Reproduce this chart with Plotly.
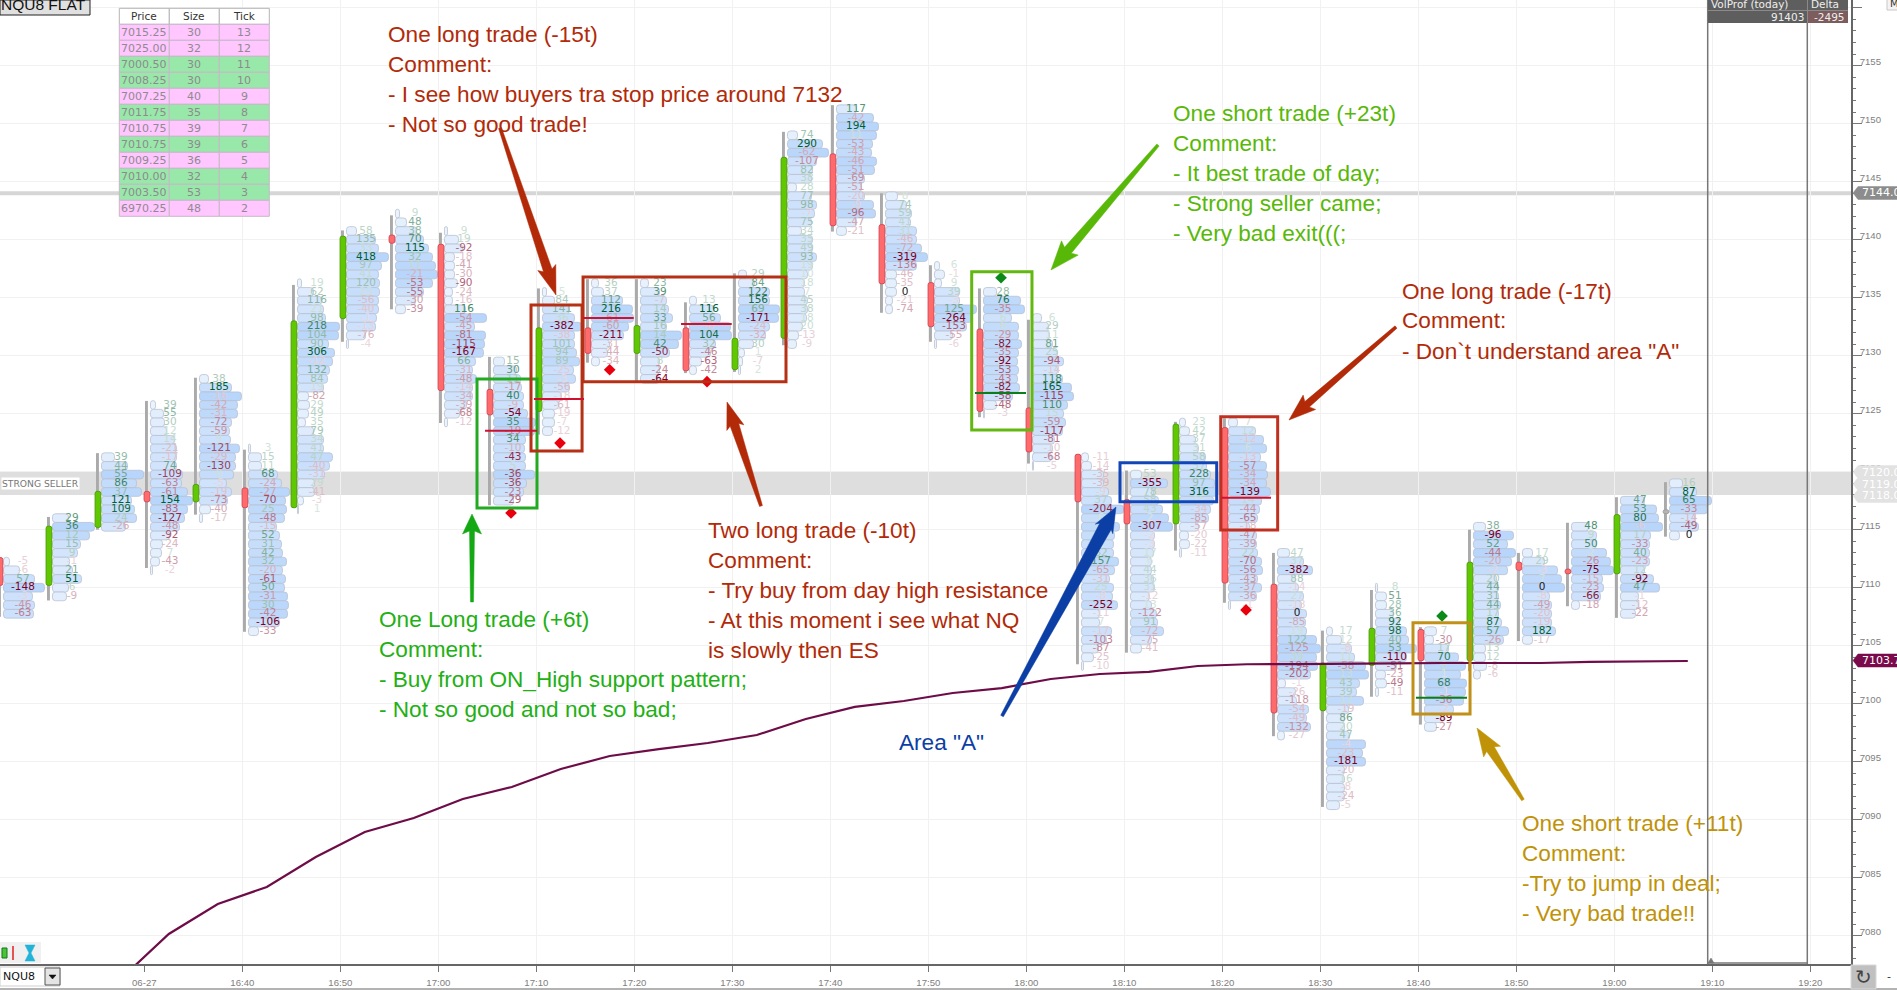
import plotly.graph_objects as go

# footprint bars, time in minutes after midnight, 5 min each
bar_times = [975, 980, 985, 990, 995, 1000, 1005, 1010, 1015, 1020, 1025, 1030, 1035, 1040, 1045, 1050, 1055, 1060,
             1065, 1070, 1075, 1080, 1085, 1090, 1095, 1100, 1105, 1110, 1115, 1120, 1125, 1130, 1135, 1140, 1145]
bar_tops = [7112.25, 7116, 7121.25, 7125.75, 7128, 7122, 7136.25, 7140.75, 7142.25, 7140.75, 7129.5, 7135.5,
            7136.25, 7136.25, 7134.75, 7137, 7149, 7151.25, 7143.75, 7137.75, 7135.5, 7133.25, 7121.25, 7119.75,
            7124.25, 7124.25, 7113, 7106.25, 7110, 7106.25, 7115.25, 7113, 7115.25, 7117.5, 7119]
bar_open = [7112.6, 7110.2, 7115.2, 7118.3, 7117.4, 7118.6, 7116.9, 7133.2, 7140.4, 7139.6, 7127.1, 7125.2,
            7132.4, 7130.2, 7132.4, 7128.8, 7131.5, 7147.4, 7141.3, 7136.3, 7132.3, 7125.5, 7121.5, 7117.6,
            7115.5, 7123.8, 7110.3, 7099.4, 7103.3, 7106.4, 7103.7, 7112.2, 7111.6, 7111.2, 7116.55]
bar_close = [7110.2, 7115.3, 7118.3, 7117.4, 7118.9, 7116.9, 7133, 7140.3, 7139.7, 7127, 7124.9, 7132.4,
             7130.2, 7132.6, 7128.7, 7131.5, 7147.1, 7141.2, 7136.2, 7132.5, 7125.2, 7121.7, 7117.4, 7115.5,
             7124.1, 7110.4, 7099.2, 7103.5, 7106.5, 7103.7, 7112.2, 7111.5, 7111.2, 7116.3, 7116.55]
bar_high = [7112.6, 7116.1, 7121.6, 7126.1, 7128.1, 7121.9, 7136.1, 7140.8, 7142.1, 7140.6, 7129.9, 7135.8,
            7136.6, 7136.6, 7134.6, 7137.1, 7149.3, 7151.6, 7144, 7137.8, 7135.8, 7133.1, 7121.5, 7120.1,
            7124.3, 7124.6, 7113, 7106.3, 7109.8, 7106.6, 7115, 7113, 7115.6, 7117.8, 7119.1]
bar_low = [7107.5, 7108.9, 7115, 7111.7, 7116.3, 7106.2, 7116.9, 7131.2, 7134, 7124.2, 7117.1, 7123.2,
           7129.4, 7127.8, 7128.5, 7128.6, 7130.9, 7140.7, 7133.7, 7131.2, 7124.7, 7120.7, 7103.4, 7104.4,
           7113.2, 7108.7, 7097.2, 7091.1, 7100.6, 7098.2, 7102.8, 7105.4, 7108.4, 7107.4, 7114.4]

# delta printed in each row of each bar, top row first
bar_deltas = [
    [-5, -6, 57, -148, -3, -46, -63],
    [29, 36, 12, 15, 9, -1, 21, 51, 6, -9],
    [39, 44, 55, 86, 37, 121, 109, 24, -26],
    [39, 55, 30, 12, 14, -21, -17, 74, -109, -63, -61, 154, -83, -127, -48, -92, -24, 7, -43, -2],
    [38, 185, -16, -42, -31, -72, -59, 9, -121, -29, -130, 9, -5, -19, -73, -40, -17],
    [3, 15, 11, 68, -24, -27, -70, 25, -48, -15, 52, 31, 42, 32, -20, -61, 50, -31, 30, -42, -106, -33],
    [19, 62, 116, 21, 98, 218, 104, 90, 306, -12, 132, 84, 19, -82, 29, 49, 35, 79, 34, 41, 47, -40, -31, 29, -41, -3, 1],
    [58, 135, 33, 418, 97, 41, 120, 25, -56, -40, -1, -13, -76, -4],
    [9, 48, 38, 70, 115, 32, 11, -21, -53, -55, -30, -39],
    [9, 19, -92, -18, -41, -30, -90, -24, -16, 116, -54, -45, -81, -115, -167, 66, -31, -48, -14, -34, -39, -68, -12],
    [15, 30, 11, -17, 40, -9, -54, 35, -19, 34, -10, -43, 5, -36, -36, -23, -29],
    [5, 84, 141, 36, -382, -38, 101, 94, 89, -25, -3, -56, -18, -61, -19, -7, -12],
    [36, 37, 112, 216, -61, -60, -211, -31, -44, -34],
    [23, 39, -7, 14, 33, 16, 14, 42, -50, 8, -24, -64],
    [13, 116, 56, -8, 104, 32, -46, -63, -42],
    [29, 84, 122, 156, 69, -171, -24, -32, 30, 1, -7, 2],
    [74, 290, -62, -107, 82, 38, 28, 77, 98, -7, 75, 34, 35, 49, 93, 19, 10, 18, 7, 45, 38, 18, 20, -13, -9],
    [117, -42, 194, 11, -53, -43, -46, -51, -69, -51, -20, -9, -96, -47, -21],
    [8, 74, 59, 41, 31, -46, -72, -319, -136, -46, -35, 0, -21, -74],
    [6, -1, 9, 39, -3, 125, -264, -153, -55, -6],
    [28, 76, -35, 6, 6, -29, -82, -35, -92, -53, -43, -82, -58, -48, -3],
    [6, 29, 11, 81, 25, -94, -14, 118, 165, -115, 110, 15, -59, -117, -81, -10, -68, -5],
    [-11, -14, -35, -39, -9, 37, -204, 6, -3, 5, 1, 62, 157, -65, -31, 25, -8, -252, -11, 7, -17, -103, -87, -25, -10],
    [53, -355, 78, 58, 43, 2, -307, -2, -3, 17, 6, 44, 36, 31, -12, 13, -122, 91, -72, -75, -41],
    [23, 42, 37, 31, 58, 37, 228, 97, 316, 15, -34, -85, -57, -20, -22, -11],
    [7, 12, -12, 6, -13, -57, -34, -34, -139, 14, -44, -65, -18, -47, -39, 22, -70, -56, -43, -37, -36, -1],
    [47, 37, -382, 88, -14, 27, -18, 0, -85, 19, 122, -125, 39, -194, -202, -1, -26, -118, -54, -49, -132, -27],
    [17, 12, -8, 11, -58, 13, 43, 39, 12, -19, 86, 20, 47, -4, -23, -181, -20, 16, -8, -24, -5],
    [8, 51, 28, 36, 92, 98, 40, 53, -110, -51, -23, -49, -11],
    [7, -30, 17, 70, 8, 1, 68, -1, -36, -2, -89, -27],
    [38, -96, 52, -44, -20, -2, 20, 44, 31, 44, 17, 87, 57, -26, 13, 12, -8, -6],
    [17, 29, -3, 7, 0, -8, -49, -20, -19, 182, -17],
    [48, 9, 50, 2, -26, -75, -15, -23, -66, -18],
    [47, 53, 80, -6, 17, -33, 40, -23, 12, -92, 47, -1, -12, -22],
    [16, 87, 65, -33, -14, -49, 0],
]
# volume profile of each bar (relative length, 42 = longest row of the bar)
bar_vols = [
    [6, 16, 31, 41, 29, 31, 30],
    [16, 42, 37, 28, 25, 17, 20, 29, 16, 14],
    [13, 26, 42, 35, 40, 30, 33, 35, 24],
    [5, 13, 14, 16, 24, 26, 26, 26, 32, 31, 37, 42, 37, 34, 29, 19, 12, 11, 9, 2],
    [9, 32, 42, 38, 38, 32, 30, 31, 40, 36, 36, 34, 27, 32, 28, 11, 3],
    [2, 13, 13, 29, 33, 41, 37, 38, 36, 28, 31, 33, 34, 38, 34, 37, 36, 39, 40, 39, 31, 10],
    [4, 16, 24, 26, 28, 42, 41, 31, 37, 35, 32, 30, 26, 11, 12, 11, 8, 16, 26, 26, 35, 32, 27, 17, 17, 6, 1],
    [10, 29, 32, 42, 35, 32, 33, 33, 32, 32, 30, 29, 19, 2],
    [4, 11, 21, 28, 33, 37, 40, 42, 37, 28, 20, 10],
    [3, 14, 18, 10, 10, 10, 13, 8, 8, 21, 42, 30, 41, 40, 39, 31, 28, 32, 28, 28, 22, 15, 3],
    [11, 23, 27, 28, 30, 30, 34, 42, 41, 32, 31, 32, 32, 41, 33, 30, 20],
    [4, 12, 27, 32, 39, 32, 32, 34, 37, 31, 33, 27, 19, 16, 12, 12, 10],
    [7, 12, 31, 41, 42, 37, 32, 18, 16, 8],
    [8, 19, 26, 28, 32, 26, 41, 38, 29, 19, 19, 19],
    [7, 24, 31, 41, 42, 26, 21, 12, 7],
    [8, 16, 31, 31, 41, 40, 31, 27, 15, 6, 4, 2],
    [10, 35, 41, 29, 25, 24, 9, 24, 29, 27, 24, 14, 25, 25, 29, 25, 20, 17, 17, 20, 20, 19, 15, 11, 9],
    [20, 37, 42, 40, 36, 35, 40, 38, 28, 25, 28, 37, 39, 20, 10],
    [12, 21, 26, 25, 31, 31, 36, 42, 31, 11, 11, 11, 7, 7],
    [5, 10, 7, 25, 25, 42, 38, 32, 18, 2],
    [13, 37, 41, 28, 35, 35, 38, 35, 34, 35, 34, 36, 29, 13, 1],
    [9, 16, 17, 20, 25, 31, 25, 30, 39, 41, 35, 31, 33, 30, 22, 20, 19, 1],
    [7, 10, 22, 22, 27, 30, 42, 33, 38, 33, 32, 32, 37, 33, 28, 32, 31, 36, 18, 18, 30, 25, 17, 12, 2],
    [11, 37, 23, 28, 32, 38, 42, 24, 24, 23, 21, 21, 23, 24, 19, 21, 26, 27, 33, 21, 11],
    [6, 10, 16, 19, 26, 27, 31, 35, 38, 34, 31, 29, 19, 9, 10, 2],
    [9, 27, 35, 38, 32, 38, 39, 38, 42, 33, 31, 29, 21, 28, 28, 29, 33, 34, 29, 33, 28, 2],
    [12, 26, 35, 18, 21, 26, 24, 29, 28, 29, 39, 43, 39, 40, 33, 8, 18, 19, 31, 29, 33, 7],
    [6, 15, 25, 28, 39, 42, 33, 30, 37, 22, 18, 18, 23, 39, 36, 39, 18, 18, 18, 18, 13],
    [2, 11, 11, 18, 24, 31, 33, 41, 31, 21, 10, 11, 3],
    [12, 9, 24, 34, 41, 36, 42, 41, 39, 29, 19, 12],
    [12, 40, 34, 42, 38, 34, 23, 25, 25, 27, 25, 28, 35, 30, 12, 12, 13, 7],
    [10, 22, 35, 39, 42, 27, 29, 29, 29, 33, 10],
    [17, 25, 25, 35, 39, 42, 31, 32, 29, 8],
    [24, 36, 38, 42, 30, 29, 29, 29, 24, 33, 39, 18, 18, 15],
    [13, 27, 42, 38, 25, 29, 10],
]

vwap_times = [987.5, 992.5, 997.5, 1002.5, 1007.5, 1012.5, 1017.5, 1022.5, 1027.5, 1032.5, 1037.5, 1042.5, 1047.5,
              1052.5, 1057.5, 1062.5, 1067.5, 1072.5, 1077.5, 1082.5, 1087.5, 1092.5, 1097.5, 1102.5, 1107.5,
              1112.5, 1117.5, 1122.5, 1127.5, 1132.5, 1137.5, 1142.5, 1147.5]
vwap_prices = [7076.2, 7080.15, 7082.73, 7084.2, 7086.78, 7088.94, 7090.15, 7091.78, 7092.82, 7094.37, 7095.49,
               7096.09, 7096.61, 7097.3, 7098.68, 7099.72, 7100.23, 7100.92, 7101.35, 7102.13, 7102.56, 7102.74,
               7103.25, 7103.4, 7103.42, 7103.42, 7103.47, 7103.51, 7103.51, 7103.51, 7103.6, 7103.64, 7103.68]

# trade boxes: t0, t1, top price, bottom price, colour
trade_boxes = [
    (1023.95, 1030.07, 7128.0, 7116.87, "#22aa22"),
    (1029.46, 1034.67, 7134.37, 7121.78, "#b53015"),
    (1034.77, 1055.48, 7136.78, 7127.76, "#b53015"),
    (1074.43, 1080.58, 7137.24, 7123.6, "#62b810"),
    (1089.56, 1099.43, 7120.78, 7117.41, "#1046b8"),
    (1099.84, 1105.65, 7124.74, 7114.97, "#c03020"),
    (1119.46, 1125.28, 7106.98, 7099.11, "#c09018"),
]
stop_lines = [
    (1024.77, 1030.07, 7123.53, "#d01030"),
    (1029.76, 1034.87, 7126.27, "#d01030"),
    (1034.77, 1039.94, 7133.25, "#d01030"),
    (1044.77, 1049.94, 7132.73, "#d01030"),
    (1074.76, 1079.97, 7126.78, "#0b7d1a"),
    (1099.94, 1104.97, 7117.76, "#d01030"),
    (1119.76, 1124.97, 7100.52, "#0b7d1a"),
]
fill_times = [1027.42, 1032.42, 1037.49, 1047.42, 1077.42, 1102.42, 1122.42]
fill_prices = [7116.44, 7122.47, 7128.79, 7127.76, 7136.72, 7108.08, 7107.56]
fill_colors = ["#e8000f", "#e8000f", "#e8000f", "#e8000f", "#0b8a1a", "#e8000f", "#0b8a1a"]

table_price = ["7015.25", "7025.00", "7000.50", "7008.25", "7007.25", "7011.75", "7010.75", "7010.75", "7009.25",
               "7010.00", "7003.50", "6970.25"]
table_size = [30, 32, 30, 30, 40, 35, 39, 39, 36, 32, 53, 48]
table_tick = [13, 12, 11, 10, 9, 8, 7, 6, 5, 4, 3, 2]
table_side = ["p", "p", "g", "g", "p", "g", "p", "g", "p", "g", "g", "p"]

x_ticks = [990, 1000, 1010, 1020, 1030, 1040, 1050, 1060, 1070, 1080, 1090, 1100, 1110, 1120, 1130, 1140, 1150, 1160]
x_labels = ["06-27", "16:40", "16:50", "17:00", "17:10", "17:20", "17:30", "17:40", "17:50", "18:00", "18:10",
            "18:20", "18:30", "18:40", "18:50", "19:00", "19:10", "19:20"]

RED = "#b22a08"
LIME = "#58b808"
GREEN = "#22b014"
BLUE = "#0b3fa6"
GOLD = "#bf9208"

comments = [
    (387, 35, RED, ["One long trade (-15t)", "Comment:", "- I see how buyers tra stop price around 7132", "- Not so good trade!"]),
    (1172, 113, LIME, ["One short trade (+23t)", "Comment:", "- It best trade of day;", "- Strong seller came;", "- Very bad exit(((;"]),
    (1401, 291, RED, ["One long trade (-17t)", "Comment:", '- Don`t understand area "A"']),
    (378, 619, GREEN, ["One Long trade (+6t)", "Comment:", "- Buy from ON_High support pattern;", "- Not so good and not so bad;"]),
    (707, 530, RED, ["Two long trade (-10t)", "Comment:", "- Try buy from day high resistance", "- At this moment i see what NQ", "is slowly then ES"]),
    (898, 742, BLUE, ['Area "A"']),
    (1521, 823, GOLD, ["One short trade (+11t)", "Comment:", "-Try to jump in deal;", "- Very bad trade!!"]),
]
# tail x, tail y, tip x, tip y, tail width, neck width, head width, head length, colour
arrows = [
    (500, 128, 556, 295, 3, 9, 19, 26, RED),
    (1158, 145, 1051, 270, 3, 9, 22, 26, LIME),
    (1396, 327, 1289, 420, 3, 7, 19, 24, RED),
    (472, 602, 472, 514, 3, 5, 19, 17, "#14a814"),
    (761, 506, 727, 402, 3, 9, 18, 24, RED),
    (1002, 716, 1116, 507, 3, 13, 20, 22, BLUE),
    (1523, 800, 1477, 728, 3, 9, 20, 25, GOLD),
]
price_tags = [(193, "7144.00", "#8c8c8c", "white"), (472, "7120.00", "#e2e2e2", "white"),
              (484, "7119.00", "#e2e2e2", "white"), (496, "7118.00", "#e2e2e2", "white"),
              (660.5, "7103.75", "#7a0a4a", "white")]

W, H = 1897, 990
PLOT_W, PLOT_H = 1851, 964
PX_PER_MIN, PX_PER_PT = 9.8, 11.6
ROW = 0.75


def px(x):
    return x / PLOT_W


def py(y):
    return 1 - y / PLOT_H


def blend(color, a):
    return "rgb(%d,%d,%d)" % tuple(round(255 + (c - 255) * a) for c in color)


def delta_color(v, top):
    if v == 0:
        return "#222222"
    a = 0.15 + 0.85 * abs(v) / top
    return blend((0, 95, 50) if v > 0 else (125, 0, 35), a)


def vol_color(n):
    r = min(n / 42, 1) ** 1.4
    return "rgb(%d,%d,%d)" % (238 - 54 * r, 245 - 32 * r, 254 - 3 * r)


row_y, row_len, row_base, row_fill = [], [], [], []
text_x, text_y, text_s, text_c = [], [], [], []
for t, top, deltas, vols in zip(bar_times, bar_tops, bar_deltas, bar_vols, strict=True):
    biggest = max(abs(v) for v in deltas)
    for i, (d, v) in enumerate(zip(deltas, vols, strict=True)):
        p = top - i * ROW
        row_y.append(p)
        row_len.append(v / PX_PER_MIN)
        row_base.append(t + 0.27 + 0.36)
        row_fill.append(vol_color(v))
        text_x.append(t + 0.27 + 2.35)
        text_y.append(p)
        text_s.append(str(d))
        text_c.append(delta_color(d, biggest))

body_base, body_len, body_fill, body_edge = [], [], [], []
for o, c in zip(bar_open, bar_close, strict=True):
    body_base.append(min(o, c) if o != c else o - 0.17)
    body_len.append(abs(o - c) if o != c else 0.34)
    body_fill.append("#5fc800" if c > o else "#ff6b6b" if c < o else "#b4b4b4")
    body_edge.append("#4f9f08" if c > o else "#d9485a" if c < o else "#a0a0a0")

fig = go.Figure()
fig.add_trace(go.Bar(
    x=row_len, y=row_y, base=row_base, orientation="h", width=ROW,
    marker=dict(color=row_fill, line=dict(color="#b7c2d2", width=0.8), cornerradius=3),
    hoverinfo="skip",
))
fig.add_trace(go.Bar(
    x=[t + 0.27 for t in bar_times], y=[h - l for h, l in zip(bar_high, bar_low)], base=bar_low, width=0.2,
    marker=dict(color="#aaaaaa", line=dict(width=0)), hoverinfo="skip",
))
fig.add_trace(go.Bar(
    x=[t + 0.27 for t in bar_times], y=body_len, base=body_base, width=0.58,
    marker=dict(color=body_fill, line=dict(color=body_edge, width=1), cornerradius=2), hoverinfo="skip",
))
fig.add_trace(go.Scatter(
    x=text_x, y=text_y, text=text_s, mode="text", hoverinfo="skip",
    textfont=dict(family="DejaVu Sans", size=10.5, color=text_c),
))
fig.add_trace(go.Scatter(
    x=vwap_times, y=vwap_prices, mode="lines", hoverinfo="skip",
    line=dict(color="#6e0c47", width=2.2),
))
fig.add_trace(go.Scatter(
    x=fill_times, y=fill_prices, mode="markers", hoverinfo="skip",
    marker=dict(symbol="diamond", size=9, color=fill_colors),
))

shapes = [
    # strong seller zone and the day high level
    dict(type="rect", xref="paper", yref="y", x0=0, x1=1, y0=7118, y1=7120,
         fillcolor="#dedede", line_width=0, layer="below"),
    dict(type="line", xref="paper", yref="y", x0=0, x1=1, y0=7144, y1=7144,
         line=dict(color="#d6d6d6", width=4), layer="below"),
]
for t0, t1, p0, p1, color in trade_boxes:
    shapes.append(dict(type="rect", x0=t0, x1=t1, y0=p0, y1=p1, line=dict(color=color, width=3)))
for t0, t1, p, color in stop_lines:
    shapes.append(dict(type="line", x0=t0, x1=t1, y0=p, y1=p, line=dict(color=color, width=2)))


def poly(points, fill, line=None):
    path = "M " + " L ".join(f"{px(a):.5f},{py(b):.5f}" for a, b in points) + " Z"
    return dict(type="path", xref="paper", yref="paper", path=path, fillcolor=fill,
                line=dict(color=line or fill, width=0.5))


def box(x0, y0, x1, y1, fill, line="rgba(0,0,0,0)", lw=1):
    return dict(type="rect", xref="paper", yref="paper", x0=px(x0), x1=px(x1), y0=py(y0), y1=py(y1),
                fillcolor=fill, line=dict(color=line, width=lw))


for x0, y0, x1, y1, w0, w1, hw, hl, color in arrows:
    dx, dy = x1 - x0, y1 - y0
    n = (dx * dx + dy * dy) ** 0.5
    ux, uy = dx / n, dy / n
    nx, ny = -uy, ux
    nk = (x1 - ux * hl, y1 - uy * hl)
    shapes.append(poly([
        (x0 + nx * w0 / 2, y0 + ny * w0 / 2), (nk[0] + nx * w1 / 2, nk[1] + ny * w1 / 2),
        (nk[0] + nx * hw / 2 - ux * 3, nk[1] + ny * hw / 2 - uy * 3), (x1, y1),
        (nk[0] - nx * hw / 2 - ux * 3, nk[1] - ny * hw / 2 - uy * 3), (nk[0] - nx * w1 / 2, nk[1] - ny * w1 / 2),
        (x0 - nx * w0 / 2, y0 - ny * w0 / 2),
    ], color))

# price/size/tick table, one row of 16 px per entry
TAB_X = [119.3, 169.3, 219.3, 269.3]
TAB_Y = 8.3
for c in range(3):
    shapes.append(box(TAB_X[c], TAB_Y, TAB_X[c + 1], TAB_Y + 16, "#ffffff", "#b4b4b4", 1))
    for i, side in enumerate(table_side):
        y = TAB_Y + 16 * (i + 1)
        shapes.append(box(TAB_X[c], y, TAB_X[c + 1], y + 16, "#ffc6ff" if side == "p" else "#98e8a9", "#c6b8c6", 1))

# right hand panel, price tags and the window controls
shapes += [
    dict(type="line", xref="paper", yref="paper", x0=px(1707.7), x1=px(1707.7), y0=0, y1=1, line=dict(color="#777777", width=1.5)),
    dict(type="line", xref="paper", yref="paper", x0=px(1807.3), x1=px(1807.3), y0=0, y1=1, line=dict(color="#777777", width=1.5)),
    box(1708, 0, 1848, 23, "#5e5e5e"),
    box(1808, 11, 1848, 23, "#7c5c5c"),
    dict(type="line", xref="paper", yref="paper", x0=px(1708), x1=px(1848), y0=py(10.5), y1=py(10.5), line=dict(color="#8a8a8a", width=1)),
    dict(type="line", xref="paper", yref="paper", x0=px(1807.5), x1=px(1807.5), y0=py(0), y1=py(23), line=dict(color="#8a8a8a", width=1)),
    dict(type="line", xref="paper", yref="paper", x0=px(1708), x1=px(1807), y0=py(963), y1=py(963), line=dict(color="#777777", width=1.5)),
    poly([(1711, 958), (1714, 963), (1708, 963)], "#777777"),
    box(0, 0, 90, 15, "#e0e0e0", "#222222", 1),
    box(0, 942, 41, 963, "#f0f0f0"),
    box(0, 967, 60, 986, "#ffffff", "#cfcfcf", 1),
    box(45, 968, 60, 985, "#e4e4e4", "#555555", 1),
    poly([(49, 975), (56, 975), (52.5, 979)], "#111111"),
    box(2, 948, 7, 958, "#4cc23a", "#0a7a10", 1),
    dict(type="line", xref="paper", yref="paper", x0=px(13), x1=px(13), y0=py(946), y1=py(960), line=dict(color="#e02020", width=1.5)),
    poly([(25, 945), (35, 945), (31, 953), (35, 961), (25, 961), (29, 953)], "#22b4d8"),
    dict(type="line", xref="paper", yref="paper", x0=0, x1=W / PLOT_W, y0=py(989), y1=py(989), line=dict(color="#9a9a9a", width=1.5)),
    box(1851, 965, 1876, 989, "#c0c0c0", "#d8d8d8", 1),
    box(1887, -2, 1900, 10, "#f4f4f4", "#c8c8c8", 1),
]
for y, _, fill, _ in price_tags:
    shapes.append(poly([(1853, y), (1858, y - 6.5), (1900, y - 6.5), (1900, y + 6.5), (1858, y + 6.5)], fill))

annotations = []


def note(x, y, text, size, color, family="Liberation Sans", xanchor="left", yanchor="middle", bg=None):
    annotations.append(dict(
        xref="paper", yref="paper", x=px(x), y=py(y), text=text, showarrow=False, xanchor=xanchor, yanchor=yanchor,
        font=dict(family=family, size=size, color=color), bgcolor=bg, borderpad=0, align="left",
    ))


for x, y, color, lines in comments:
    for i, line in enumerate(lines):
        note(x, y + i * 30, line, 22.6, color)
note(0, 4.5, "NQU8 FLAT", 15.5, "#111111")
note(1, 483.3, "STRONG SELLER", 9.2, "#777777", family="DejaVu Sans", bg="white")
note(1710, 4, "VolProf (today)", 10.5, "#eeeeee", family="DejaVu Sans")
note(1810, 4, "Delta", 10.5, "#eeeeee", family="DejaVu Sans")
note(1805, 17, "91403", 10.5, "#eeeeee", family="DejaVu Sans", xanchor="right")
note(1846, 17, "-2495", 10.5, "#eeeeee", family="DejaVu Sans", xanchor="right")
note(2, 976.5, "NQU8", 11, "#111111", family="DejaVu Sans")
note(1863.5, 977, "↻", 20, "#444444", family="DejaVu Sans", xanchor="center")
note(1889, 976, "-", 11, "#333333", family="DejaVu Sans", xanchor="center")
note(1889, 4, "M", 10, "#333333", family="DejaVu Sans")
for y, label, _, color in price_tags:
    note(1860.5, y, label, 11, color, family="DejaVu Sans")
for c, (head, col) in enumerate(zip(["Price", "Size", "Tick"], [table_price, table_size, table_tick])):
    cx = (TAB_X[c] + TAB_X[c + 1]) / 2
    note(cx, TAB_Y + 8, head, 10.5, "#333333", family="DejaVu Sans", xanchor="center")
    for i, val in enumerate(col):
        note(cx, TAB_Y + 16 * (i + 1) + 8, str(val), 11, "#8f8a8f", family="DejaVu Sans", xanchor="center")

fig.update_layout(
    width=W, height=H, margin=dict(l=0, r=W - PLOT_W, t=0, b=H - PLOT_H),
    paper_bgcolor="white", plot_bgcolor="white", showlegend=False, barmode="overlay",
    shapes=shapes, annotations=annotations,
)
fig.update_xaxes(
    range=[990 - 144.3 / PX_PER_MIN, 990 + (PLOT_W - 144.3) / PX_PER_MIN],
    tickmode="array", tickvals=x_ticks, ticktext=x_labels, showgrid=False, zeroline=False,
    ticks="outside", ticklen=6, tickcolor="#777777", ticklabelstandoff=2,
    tickfont=dict(family="Liberation Sans", size=9.6, color="#808080"),
    showline=True, linecolor="#666666", linewidth=2,
    minor=dict(tickvals=x_ticks[1:], showgrid=True, gridcolor="#f1f1f1", gridwidth=1, ticks=""),
)
fig.update_yaxes(
    range=[7155 - (PLOT_H - 65.7) / PX_PER_PT, 7155 + 65.7 / PX_PER_PT], side="right",
    tick0=7080, dtick=5, showgrid=True, gridcolor="#f1f1f1", gridwidth=1, zeroline=False,
    ticks="outside", ticklen=9, tickcolor="#777777", ticklabelstandoff=-4, ticklabelshift=-4,
    tickformat="d", tickfont=dict(family="Liberation Sans", size=9.6, color="#808080"),
    showline=True, linecolor="#666666", linewidth=1.5,
    minor=dict(dtick=1, ticks="outside", ticklen=3, tickcolor="#777777", showgrid=False),
)

fig.write_html("out.html", config=dict(displayModeBar=False), post_script="document.body.style.margin='0';")
